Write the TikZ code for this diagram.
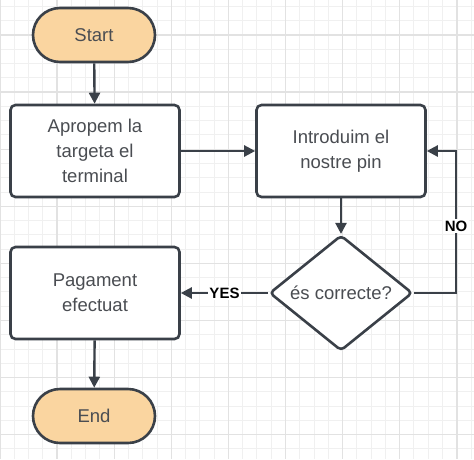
\documentclass[tikz,border=0pt]{standalone}
\usepackage{fontspec}
\setmainfont{Liberation Sans}
\usetikzlibrary{shapes.geometric,arrows.meta}
\definecolor{linec}{RGB}{58,64,72}
\definecolor{textc}{RGB}{74,77,82}
\definecolor{peach}{RGB}{250,213,160}
\definecolor{gridminor}{RGB}{240,240,240}
\definecolor{gridmajor}{RGB}{226,226,226}
\tikzset{
  box/.style={draw=linec,line width=2.6pt,rounded corners=5pt,fill=white,
    minimum width=169pt,minimum height=92pt,align=center,text=textc,
    font=\fontsize{18.5}{25}\selectfont},
  term/.style={draw=linec,line width=2.6pt,rounded corners=27pt,fill=peach,
    minimum width=122pt,minimum height=54pt,text=textc,
    font=\fontsize{18.5}{25}\selectfont},
  choice/.style={diamond,draw=linec,line width=2.6pt,rounded corners=4pt,fill=white,
    minimum width=143pt,minimum height=111pt,inner sep=0pt,text=textc,
    font=\fontsize{18.5}{25}\selectfont},
  flow/.style={draw=linec,line width=2.4pt,-{Triangle[length=11pt,width=11pt]}},
  tag/.style={fill=white,inner sep=1.5pt,font=\fontsize{15}{18}\selectfont\bfseries}
}
\begin{document}
\begin{tikzpicture}[x=1pt,y=-1pt]
\useasboundingbox (0,0) rectangle (474,459);
\fill[white] (0,0) rectangle (474,459);
% grid
\foreach \i in {0,...,34} \draw[gridminor,line width=1pt] (\i*14.275,0) -- (\i*14.275,459);
\foreach \i in {0,...,33} \draw[gridminor,line width=1pt] (0,-7.825+\i*14.275) -- (474,-7.825+\i*14.275);
\foreach \i in {0,...,8} \draw[gridmajor,line width=1.4pt] (\i*57.1,0) -- (\i*57.1,459);
\foreach \i in {-1,...,7} \draw[gridmajor,line width=1.4pt] (0,35+\i*57.1) -- (474,35+\i*57.1);

% nodes
\node[term] (start) at (94,35) {Start};
\node[box] (apropem) at (95,151) {Apropem la\\targeta el\\terminal};
\node[box] (pin) at (341,151) {Introduim el\\nostre pin};
\node[choice] (correcte) at (341,293) {és correcte?};
\node[box] (pagament) at (95,293) {Pagament\\efectuat};
\node[term] (end) at (94,416) {End};
\coordinate (noturn) at (456,293);

% connectors
\draw[flow] (start) -- (apropem);
\draw[flow] (apropem) -- (pin);
\draw[flow] (pin) -- (correcte);
\draw[flow] (correcte) -- node[tag,pos=0.5]{YES} (pagament);
\draw[flow] (correcte.east) -- (noturn) -- node[tag,pos=0.47]{NO} (noturn |- pin.east) -- (pin.east);
\draw[flow] (pagament) -- (end);
\end{tikzpicture}
\end{document}
